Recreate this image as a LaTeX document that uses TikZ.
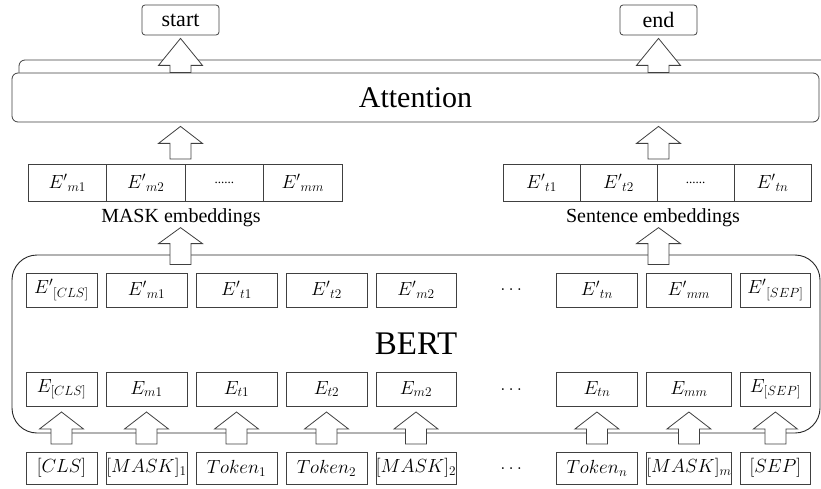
\RequirePackage{fix-cm}
\documentclass[tikz,border=0pt]{standalone}
\usepackage{fontspec}
\setmainfont{Liberation Serif}
\usetikzlibrary{positioning, calc}
\tikzset{
  cellbox/.style={
    draw=black!75,
    line width=0.8pt,
    inner sep=0pt,
    outer sep=0pt,
    minimum height=34pt,
    font=\fontsize{19}{22}\selectfont,
  },
  tokbox/.style={cellbox, minimum height=32pt},
  embcell/.style={cellbox, minimum width=78.5pt, minimum height=37pt},
  embtext/.style={font=\fontsize{20}{22}\selectfont},
  dotsnode/.style={inner sep=0pt, minimum width=82pt, minimum height=34pt,
    font=\fontsize{19}{22}\selectfont},
  outbox/.style={
    draw=black!75,
    line width=0.8pt,
    rounded corners=3pt,
    minimum width=77pt,
    minimum height=30pt,
    inner sep=0pt,
    font=\fontsize{22}{24}\selectfont,
  },
  layerbox/.style={draw=black!75, line width=0.8pt, fill=white, rounded corners=6pt},
  bertbox/.style={
    draw=black!85,
    line width=0.9pt,
    rounded corners=25pt,
    minimum width=808pt,
    minimum height=178pt,
    font=\fontsize{33}{36}\selectfont,
  },
  blockarr/.style={draw=black!75, line width=0.8pt, fill=white, line join=miter},
}
% hollow up-arrow: #2 = foot of the shaft, #3 = tip, #1 = head length
\newcommand{\blockUp}[3][17pt]{%
  \draw[blockarr] let \p1=(#2), \p2=(#3) in
    (\x1-10.5pt,\y1) -- (\x1-10.5pt,\y2-#1) -- (\x1-22pt,\y2-#1) -- (\x1,\y2)
    -- (\x1+22pt,\y2-#1) -- (\x1+10.5pt,\y2-#1) -- (\x1+10.5pt,\y1) -- cycle;%
}

\begin{document}
\begin{tikzpicture}[x=1pt, y=1pt, node distance=9pt]
  \useasboundingbox (0,0) rectangle (821,488);

  % --- outputs and attention layer ---
  \node[outbox] (start) at (180.5,468) {start};
  \node[outbox] (end) at (658.5,468) {end};

  \draw[draw=black!75, line width=0.8pt, rounded corners=6pt]
    (821,428) -- (19,428) -- (19,380);
  \node[layerbox, minimum width=807pt, minimum height=49pt,
        font=\fontsize{30}{32}\selectfont] (attn) at (415.5,390.5) {Attention};

  % --- embedding rows ---
  \node[embcell, anchor=west] (m1) at (28,305.5) {${E'}_{m1}$};
  \node[embcell, right=0pt of m1] (m2) {${E'}_{m2}$};
  \node[embcell, right=0pt of m2] (m3) {\fontsize{13}{14}\selectfont ......};
  \node[embcell, right=0pt of m3] (m4) {${E'}_{mm}$};
  \node[embtext] (maskLbl) at (181,270) {MASK embeddings};

  \node[embcell, minimum width=77pt, anchor=west] (s1) at (503,305.5) {${E'}_{t1}$};
  \node[embcell, minimum width=77pt, right=0pt of s1] (s2) {${E'}_{t2}$};
  \node[embcell, minimum width=77pt, right=0pt of s2] (s3) {\fontsize{13}{14}\selectfont ......};
  \node[embcell, minimum width=77pt, right=0pt of s3] (s4) {${E'}_{tn}$};
  \node[embtext] (sentLbl) at (653,270) {Sentence embeddings};

  % --- BERT ---
  \node[bertbox] (bert) at (416,144) {BERT};

  \node[cellbox, minimum width=71pt, anchor=west] (u1) at (26,198) {${E'}_{[CLS]}$};
  \node[cellbox, minimum width=81pt, right=of u1] (u2) {${E'}_{m1}$};
  \node[cellbox, minimum width=81pt, right=of u2] (u3) {${E'}_{t1}$};
  \node[cellbox, minimum width=81pt, right=of u3] (u4) {${E'}_{t2}$};
  \node[cellbox, minimum width=80pt, right=of u4] (u5) {${E'}_{m2}$};
  \node[dotsnode, right=14pt of u5] (ud) {$\ldots$};
  \node[cellbox, minimum width=81pt, right=4pt of ud] (u6) {${E'}_{tn}$};
  \node[cellbox, minimum width=85pt, right=of u6] (u7) {${E'}_{mm}$};
  \node[cellbox, minimum width=70pt, right=of u7] (u8) {${E'}_{[SEP]}$};

  \node[cellbox, minimum width=71pt, below=65pt of u1] (e1) {$E_{[CLS]}$};
  \node[cellbox, minimum width=81pt, below=65pt of u2] (e2) {$E_{m1}$};
  \node[cellbox, minimum width=81pt, below=65pt of u3] (e3) {$E_{t1}$};
  \node[cellbox, minimum width=81pt, below=65pt of u4] (e4) {$E_{t2}$};
  \node[cellbox, minimum width=80pt, below=65pt of u5] (e5) {$E_{m2}$};
  \node[dotsnode, below=65pt of ud] (ed) {$\ldots$};
  \node[cellbox, minimum width=81pt, below=65pt of u6] (e6) {$E_{tn}$};
  \node[cellbox, minimum width=85pt, below=65pt of u7] (e7) {$E_{mm}$};
  \node[cellbox, minimum width=70pt, below=65pt of u8] (e8) {$E_{[SEP]}$};

  % --- input tokens ---
  \node[tokbox, minimum width=71pt, below=46pt of e1] (t1) {$[CLS]$};
  \node[tokbox, minimum width=81pt, below=46pt of e2] (t2) {$[MASK]_1$};
  \node[tokbox, minimum width=81pt, below=46pt of e3] (t3) {$Token_1$};
  \node[tokbox, minimum width=81pt, below=46pt of e4] (t4) {$Token_2$};
  \node[tokbox, minimum width=80pt, below=46pt of e5] (t5) {$[MASK]_2$};
  \node[dotsnode, below=46pt of ed, minimum height=32pt] (td) {$\ldots$};
  \node[tokbox, minimum width=81pt, below=46pt of e6] (t6) {$Token_n$};
  \node[tokbox, minimum width=85pt, below=46pt of e7] (t7) {$[MASK]_m$};
  \node[tokbox, minimum width=70pt, below=46pt of e8] (t8) {$[SEP]$};

  % --- arrows ---
  \blockUp{$(t1.north)+(0,8)$}{$(e1.south)+(0,-6)$}
  \blockUp{$(t2.north)+(0,8)$}{$(e2.south)+(0,-6)$}
  \blockUp{$(t3.north)+(0,8)$}{$(e3.south)+(0,-6)$}
  \blockUp{$(t4.north)+(0,8)$}{$(e4.south)+(0,-6)$}
  \blockUp{$(t5.north)+(0,8)$}{$(e5.south)+(0,-6)$}
  \blockUp{$(t6.north)+(0,8)$}{$(e6.south)+(0,-6)$}
  \blockUp{$(t7.north)+(0,8)$}{$(e7.south)+(0,-6)$}
  \blockUp{$(t8.north)+(0,8)$}{$(e8.south)+(0,-6)$}

  \blockUp[16pt]{$(bert.north -| start)+(0,-10)$}{$(maskLbl.south -| start)+(0,3)$}
  \blockUp[16pt]{$(bert.north -| end)+(0,-10)$}{$(sentLbl.south -| end)+(0,3)$}

  \blockUp{$(m1.north -| start)+(0,5)$}{$(attn.south -| start)+(0,-4)$}
  \blockUp{$(s1.north -| end)+(0,5)$}{$(attn.south -| end)+(0,-4)$}

  \blockUp[27pt]{attn.north -| start}{$(start.south)+(0,-3)$}
  \blockUp[27pt]{attn.north -| end}{$(end.south)+(0,-3)$}
\end{tikzpicture}
\end{document}
